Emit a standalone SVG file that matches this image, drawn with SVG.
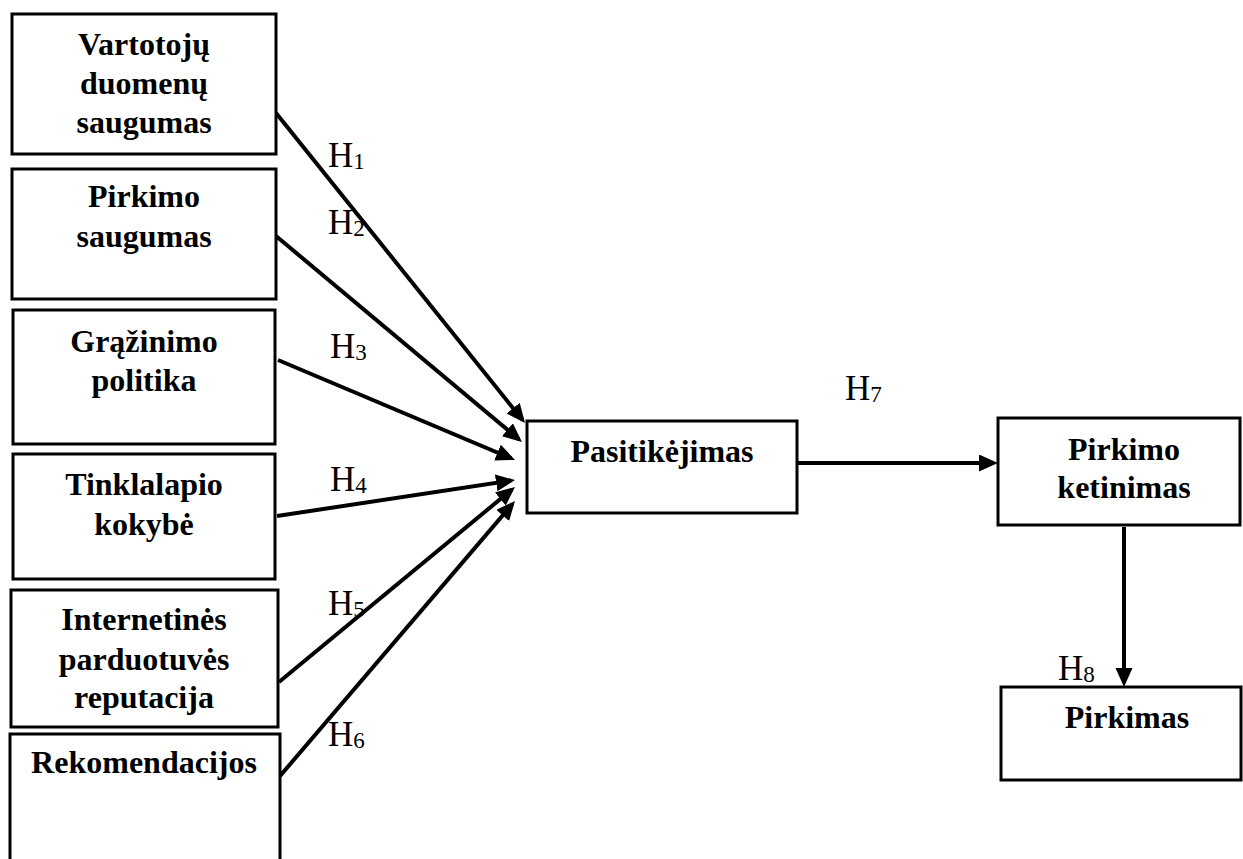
<svg xmlns="http://www.w3.org/2000/svg" width="1243" height="859" viewBox="0 0 1243 859">
  <style>
    .box { fill: #ffffff; stroke: #000000; stroke-width: 3; }
    .lbl { font-family: "Liberation Serif", "Times New Roman", serif; font-weight: bold; font-size: 32px; fill: #000000; text-anchor: middle; }
    .hyp { font-family: "Liberation Serif", "Times New Roman", serif; font-size: 35px; fill: #000000; }
    .sub { font-size: 23px; }
    .edge { stroke: #000000; stroke-width: 4; fill: none; marker-end: url(#arrow); }
  </style>
  <defs>
    <marker id="arrow" markerUnits="userSpaceOnUse" markerWidth="22" markerHeight="20" refX="15" refY="8.5" orient="auto">
      <path d="M0,0 L19,8.5 L0,17 z" fill="#000000"/>
    </marker>
  </defs>
  <rect width="1243" height="859" fill="#ffffff"/>

  <!-- connectors -->
  <g id="connectors">
    <line class="edge" x1="276" y1="113" x2="522.5" y2="419.9"/>
    <line class="edge" x1="276" y1="236" x2="518.9" y2="439.4"/>
    <line class="edge" x1="278" y1="360" x2="511.3" y2="458.4"/>
    <line class="edge" x1="277" y1="516" x2="511" y2="480.6"/>
    <line class="edge" x1="279" y1="682" x2="511.9" y2="489.5"/>
    <line class="edge" x1="280" y1="776" x2="512.4" y2="504"/>
    <line class="edge" x1="797" y1="463" x2="994" y2="463"/>
    <line class="edge" x1="1124" y1="527" x2="1124" y2="683"/>
  </g>

  <!-- hypothesis labels -->
  <g id="labels">
    <text class="hyp" x="328" y="167">H<tspan class="sub" dy="2">1</tspan></text>
    <text class="hyp" x="328" y="234">H<tspan class="sub" dy="2">2</tspan></text>
    <text class="hyp" x="330" y="358">H<tspan class="sub" dy="2">3</tspan></text>
    <text class="hyp" x="330" y="491">H<tspan class="sub" dy="2">4</tspan></text>
    <text class="hyp" x="328" y="615">H<tspan class="sub" dy="2">5</tspan></text>
    <text class="hyp" x="328" y="746">H<tspan class="sub" dy="2">6</tspan></text>
    <text class="hyp" x="845" y="400">H<tspan class="sub" dy="2">7</tspan></text>
    <text class="hyp" x="1058" y="680">H<tspan class="sub" dy="2">8</tspan></text>
  </g>

  <g id="vartotoju-duomenu-saugumas">
    <rect class="box" x="12" y="14" width="264" height="140"/>
    <text class="lbl" x="144" y="55">Vartotojų</text>
    <text class="lbl" x="144" y="94">duomenų</text>
    <text class="lbl" x="144" y="133">saugumas</text>
  </g>
  <g id="pirkimo-saugumas">
    <rect class="box" x="12" y="169" width="264" height="130"/>
    <text class="lbl" x="144" y="207">Pirkimo</text>
    <text class="lbl" x="144" y="247">saugumas</text>
  </g>
  <g id="grazinimo-politika">
    <rect class="box" x="13" y="310" width="262" height="134"/>
    <text class="lbl" x="144" y="352">Grąžinimo</text>
    <text class="lbl" x="144" y="391">politika</text>
  </g>
  <g id="tinklalapio-kokybe">
    <rect class="box" x="13" y="454" width="262" height="125"/>
    <text class="lbl" x="144" y="495">Tinklalapio</text>
    <text class="lbl" x="144" y="535">kokybė</text>
  </g>
  <g id="internetines-parduotuves-reputacija">
    <rect class="box" x="11" y="590" width="267" height="137"/>
    <text class="lbl" x="144" y="630">Internetinės</text>
    <text class="lbl" x="144" y="670">parduotuvės</text>
    <text class="lbl" x="144" y="708">reputacija</text>
  </g>
  <g id="rekomendacijos">
    <rect class="box" x="10" y="734" width="270" height="140"/>
    <text class="lbl" x="144" y="773">Rekomendacijos</text>
  </g>
  <g id="pasitikejimas">
    <rect class="box" x="527" y="421" width="270" height="92"/>
    <text class="lbl" x="662" y="462">Pasitikėjimas</text>
  </g>
  <g id="pirkimo-ketinimas">
    <rect class="box" x="998" y="418" width="242" height="107"/>
    <text class="lbl" x="1124" y="460">Pirkimo</text>
    <text class="lbl" x="1124" y="498">ketinimas</text>
  </g>
  <g id="pirkimas">
    <rect class="box" x="1001" y="687" width="240" height="93"/>
    <text class="lbl" x="1127" y="728">Pirkimas</text>
  </g>
</svg>
